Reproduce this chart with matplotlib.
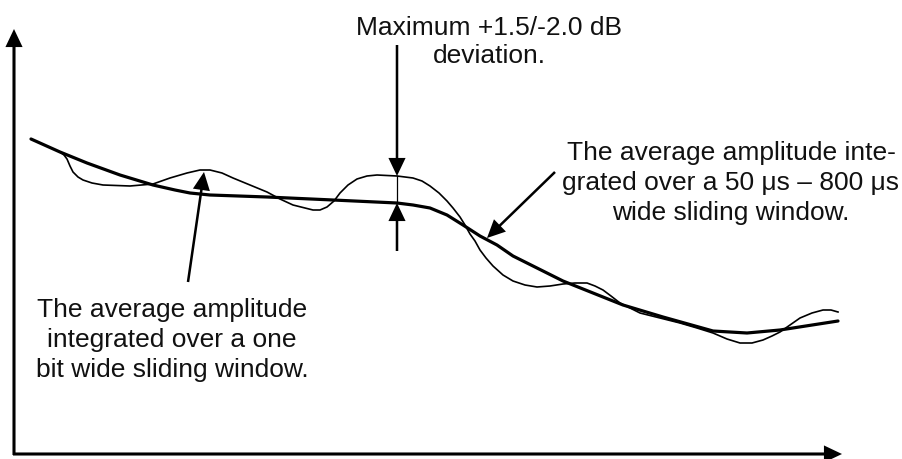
import matplotlib.pyplot as plt

# curves, in pixel coordinates (x right, y down)
avg_x = [31, 60, 87, 120, 153, 175, 190, 210, 267, 333, 397, 413, 430, 447, 463,
         480, 497, 513, 563, 623, 663, 713, 747, 780, 838]
avg_y = [139, 152, 163, 175, 185, 190, 193, 195, 197, 200, 203, 205, 208, 215, 225,
         236, 245, 256, 281, 305, 317, 331, 333, 330, 321]

bit_x = [60, 64, 67, 70, 73, 78, 83, 92, 103, 130, 153, 170, 187, 200, 210,
         222, 233, 250, 267, 280, 293, 313, 320, 327, 334, 340, 348, 357, 367,
         377, 397, 413, 422, 430, 439, 447, 453, 460, 465, 470, 475, 480, 486,
         493, 503, 513, 525, 537, 550, 563, 575, 587, 595, 603, 611, 620, 630,
         640, 660, 680, 697, 713, 727, 740, 752, 763, 772, 780, 790, 800, 812,
         823, 831, 838]
bit_y = [152, 155, 159, 166, 172, 177, 180, 183, 185, 186, 184, 178, 173, 170,
         170, 173, 178, 185, 192, 199, 205, 210, 210, 207, 201, 193, 185, 179,
         176, 175, 176, 178, 181, 186, 193, 201, 208, 217, 225, 234, 241, 250,
         258, 266, 275, 281, 285, 287, 286, 284, 283, 283, 286, 290, 296, 303,
         308, 313, 318, 323, 328, 333, 339, 343, 343, 340, 336, 332, 325, 318,
         313, 310, 310, 312]

# annotation arrows: (start, tip)
arrows = [((397, 45), (397, 176)),
          ((397, 251), (397, 203)),
          ((188, 282), (204, 172)),
          ((555, 172), (487, 238))]

# text lines: (x centre, baseline, text)
labels = [(489, 35, "Maximum +1.5/-2.0 dB"),
          (489, 63, "deviation."),
          (731, 160, "The average amplitude inte-"),
          (731, 190, "grated over a 50 \u03bcs \u2013 800 \u03bcs"),
          (731, 220, "wide sliding window."),
          (172, 317, "The average amplitude"),
          (172, 347, "integrated over a one"),
          (172, 377, "bit wide sliding window.")]

plt.rcParams['font.family'] = ['Liberation Sans', 'DejaVu Sans']

fig = plt.figure(figsize=(9.02, 4.59), dpi=100)
ax = fig.add_axes([0, 0, 1, 1])
ax.set_xlim(0, 902)
ax.set_ylim(459, 0)
ax.axis('off')

# axes of the sketch
head = 'simple,head_length=1.0,head_width=0.95,tail_width=0.17'
ax.annotate('', xy=(14, 29), xytext=(14, 455),
            arrowprops=dict(arrowstyle=head, mutation_scale=13, color='black',
                            lw=0, shrinkA=0, shrinkB=0))
ax.annotate('', xy=(842, 454), xytext=(13, 454),
            arrowprops=dict(arrowstyle=head, mutation_scale=13, color='black',
                            lw=0, shrinkA=0, shrinkB=0))

ax.plot(bit_x, bit_y, color='black', lw=1.2, solid_joinstyle='round')
ax.plot(avg_x, avg_y, color='black', lw=2.3, solid_joinstyle='round',
        solid_capstyle='round')

# thin line marking the deviation
ax.plot([397, 397], [176, 203], color='black', lw=0.9)

for start, tip in arrows:
    ax.annotate('', xy=tip, xytext=start,
                arrowprops=dict(arrowstyle='simple,head_length=1.0,head_width=0.95,tail_width=0.14',
                                mutation_scale=13, color='black', lw=0,
                                shrinkA=0, shrinkB=0))

for x, y, s in labels:
    ax.text(x, y, s, ha='center', va='baseline', fontsize=19, color='#111111')

fig.savefig('out.png', dpi=100)
